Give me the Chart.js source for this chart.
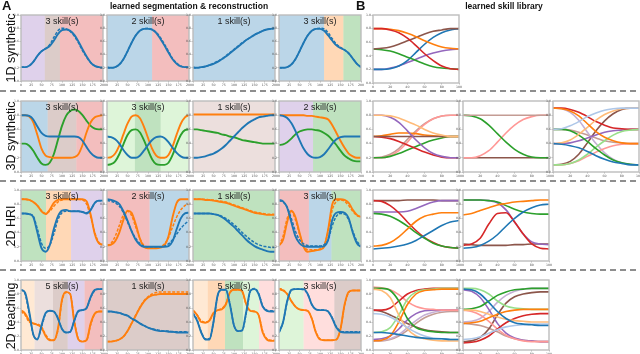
<!DOCTYPE html>
<html>
<head>
<meta charset="utf-8">
<title>learned segmentation &amp; skill library</title>
<script src="https://cdn.jsdelivr.net/npm/chart.js@4.4.0/dist/chart.umd.min.js"></script>
<style>
body { margin: 0; background: #fff; }
#fig { position: relative; width: 640px; height: 354px; overflow: hidden; background: #fff;
       font-family: "Liberation Sans", Arial, sans-serif; color: #111; }
.lbl { position: absolute; white-space: nowrap; line-height: 1; }
.panel { font-weight: bold; font-size: 13px; }
.head { font-weight: bold; font-size: 8.5px; transform: translateX(-50%); }
.row { font-size: 12.5px; transform: translate(-50%, -50%) rotate(-90deg); }
.skill { font-size: 9px; transform: translateX(-50%); color: #222; }
.sep { position: absolute; left: 0; width: 640px; height: 2px;
       background: repeating-linear-gradient(to right, #8e8e8e 0 6px, transparent 6px 10px); }
canvas { position: absolute; }
</style>
</head>
<body>
<div id="fig"></div>
<script>

// ---- x grids and tick labels
var X_SEG = [0,10,20,30,40,50,60,70,80,90,100,110,120,130,140,150,160,170,180,190,200];
var X_LIB = [0,10,20,30,40,50,60,70,80,90,100];
var SEG_TICKS = [0,25,50,75,100,125,150,175,200];
var LIB_TICKS = [0,20,40,60,80,100];
var Y_TICKS = [0,0.2,0.4,0.6,0.8,1.0];

var rowNames = ['1D synthetic', '3D synthetic', '2D HRI', '2D teaching'];
var skillCounts = [[3,2,1,3],[3,3,1,2],[3,2,1,3],[5,1,5,3]];

// ---- A: 1D synthetic (demo + dashed reconstruction)
var syn1_a     = [0.21,0.21,0.23,0.29,0.38,0.45,0.49,0.53,0.61,0.71,0.77,0.78,0.76,0.70,0.60,0.48,0.37,0.28,0.23,0.21,0.20];
var syn1_a_rec = [0.21,0.21,0.23,0.29,0.38,0.45,0.49,0.55,0.66,0.76,0.80,0.79,0.75,0.68,0.58,0.46,0.36,0.28,0.23,0.21,0.20];
var syn1_b     = [0.20,0.20,0.21,0.25,0.33,0.45,0.58,0.69,0.76,0.79,0.79,0.78,0.73,0.64,0.54,0.43,0.33,0.26,0.22,0.21,0.21];
var syn1_b_rec = [0.21,0.20,0.21,0.25,0.33,0.45,0.58,0.69,0.76,0.79,0.80,0.78,0.74,0.66,0.56,0.45,0.34,0.27,0.23,0.21,0.21];
var syn1_c     = [0.20,0.20,0.21,0.22,0.24,0.26,0.29,0.33,0.37,0.42,0.47,0.52,0.57,0.62,0.66,0.70,0.73,0.76,0.78,0.79,0.80];
var syn1_c_rec = [0.21,0.20,0.21,0.22,0.24,0.27,0.30,0.33,0.38,0.43,0.48,0.53,0.58,0.62,0.66,0.70,0.73,0.76,0.78,0.79,0.80];
var syn1_d     = [0.20,0.20,0.21,0.25,0.33,0.45,0.58,0.69,0.76,0.79,0.79,0.76,0.69,0.61,0.54,0.50,0.47,0.42,0.34,0.26,0.21];
var syn1_d_rec = [0.20,0.20,0.21,0.25,0.33,0.45,0.58,0.69,0.76,0.79,0.80,0.79,0.73,0.64,0.56,0.51,0.47,0.42,0.34,0.26,0.21];

// ---- A: 3D synthetic (reconstruction sits on top of the demo)
var syn3_a_blue   = [0.80,0.80,0.79,0.74,0.64,0.55,0.51,0.50,0.50,0.50,0.50,0.50,0.50,0.50,0.49,0.44,0.35,0.27,0.22,0.20,0.20];
var syn3_a_orange = [0.80,0.80,0.78,0.70,0.52,0.33,0.23,0.21,0.20,0.20,0.20,0.20,0.20,0.21,0.25,0.38,0.56,0.70,0.77,0.79,0.80];
var syn3_a_green  = [0.40,0.40,0.37,0.30,0.20,0.12,0.10,0.13,0.25,0.45,0.65,0.79,0.86,0.88,0.86,0.80,0.72,0.65,0.61,0.60,0.60];
var syn3_b_blue   = [0.50,0.49,0.46,0.40,0.31,0.24,0.20,0.20,0.23,0.30,0.38,0.45,0.49,0.50,0.48,0.42,0.34,0.27,0.22,0.20,0.20];
var syn3_b_orange = [0.20,0.21,0.26,0.37,0.53,0.68,0.78,0.80,0.76,0.64,0.48,0.33,0.23,0.20,0.20,0.24,0.36,0.53,0.68,0.77,0.80];
var syn3_b_green  = [0.10,0.11,0.15,0.25,0.39,0.52,0.59,0.60,0.56,0.45,0.31,0.18,0.11,0.10,0.10,0.13,0.24,0.39,0.52,0.59,0.60];
var syn3_c_blue   = [0.20,0.20,0.21,0.22,0.24,0.26,0.29,0.33,0.38,0.44,0.50,0.56,0.62,0.67,0.71,0.74,0.77,0.78,0.79,0.80,0.80];
var syn3_c_orange = [0.81,0.81,0.81,0.81,0.81,0.81,0.81,0.81,0.81,0.81,0.81,0.81,0.81,0.81,0.81,0.81,0.81,0.81,0.81,0.81,0.81];
var syn3_c_green  = [0.60,0.60,0.59,0.58,0.57,0.56,0.55,0.53,0.52,0.50,0.49,0.47,0.45,0.44,0.43,0.42,0.41,0.40,0.40,0.40,0.40];
var syn3_d_blue   = [0.80,0.79,0.76,0.69,0.58,0.45,0.33,0.25,0.21,0.20,0.21,0.25,0.32,0.40,0.46,0.49,0.50,0.50,0.50,0.50,0.50];
var syn3_d_orange = [0.80,0.80,0.80,0.80,0.80,0.80,0.80,0.79,0.79,0.78,0.77,0.76,0.74,0.66,0.55,0.44,0.34,0.26,0.22,0.20,0.20];
var syn3_d_green  = [0.38,0.39,0.42,0.47,0.53,0.57,0.59,0.60,0.60,0.59,0.58,0.55,0.51,0.45,0.38,0.30,0.23,0.19,0.16,0.15,0.15];

// ---- A: 2D HRI
var hri_a_orange     = [0.87,0.87,0.86,0.83,0.78,0.70,0.66,0.72,0.82,0.86,0.87,0.87,0.87,0.87,0.87,0.87,0.84,0.65,0.38,0.25,0.23];
var hri_a_orange_rec = [0.87,0.87,0.86,0.83,0.78,0.71,0.67,0.70,0.77,0.83,0.86,0.87,0.87,0.87,0.87,0.86,0.80,0.62,0.40,0.26,0.23];
var hri_a_blue       = [0.67,0.67,0.66,0.62,0.40,0.18,0.13,0.22,0.45,0.63,0.71,0.72,0.70,0.70,0.70,0.69,0.67,0.72,0.82,0.85,0.85];
var hri_a_blue_rec   = [0.67,0.67,0.66,0.63,0.45,0.25,0.18,0.22,0.38,0.58,0.68,0.70,0.70,0.70,0.70,0.69,0.68,0.72,0.82,0.85,0.85];
var hri_b_orange     = [0.22,0.23,0.28,0.40,0.58,0.71,0.68,0.52,0.32,0.20,0.18,0.18,0.18,0.19,0.22,0.35,0.62,0.82,0.87,0.87,0.87];
var hri_b_orange_rec = [0.22,0.25,0.35,0.50,0.65,0.70,0.64,0.48,0.32,0.22,0.19,0.18,0.19,0.20,0.24,0.33,0.48,0.62,0.72,0.78,0.80];
var hri_b_blue       = [0.87,0.86,0.84,0.80,0.70,0.57,0.42,0.30,0.23,0.20,0.20,0.20,0.20,0.20,0.20,0.21,0.28,0.45,0.60,0.67,0.68];
var hri_b_blue_rec   = [0.85,0.84,0.82,0.77,0.68,0.55,0.42,0.32,0.25,0.21,0.20,0.20,0.20,0.20,0.21,0.24,0.30,0.38,0.46,0.52,0.57];
var hri_c_orange     = [0.87,0.87,0.87,0.86,0.86,0.85,0.84,0.83,0.82,0.80,0.78,0.76,0.74,0.72,0.70,0.68,0.67,0.66,0.65,0.65,0.65];
var hri_c_orange_rec = [0.87,0.87,0.87,0.87,0.86,0.86,0.85,0.84,0.83,0.81,0.79,0.77,0.75,0.73,0.71,0.69,0.68,0.67,0.66,0.66,0.66];
var hri_c_blue       = [0.67,0.67,0.67,0.67,0.67,0.66,0.65,0.62,0.58,0.53,0.48,0.42,0.36,0.30,0.25,0.21,0.18,0.16,0.14,0.13,0.13];
var hri_c_blue_rec   = [0.67,0.67,0.67,0.67,0.67,0.66,0.65,0.63,0.60,0.56,0.51,0.46,0.40,0.35,0.30,0.26,0.23,0.21,0.20,0.19,0.19];
var hri_d_orange     = [0.22,0.30,0.55,0.71,0.62,0.40,0.20,0.13,0.14,0.15,0.16,0.20,0.45,0.80,0.87,0.87,0.86,0.82,0.72,0.65,0.62];
var hri_d_orange_rec = [0.22,0.35,0.60,0.70,0.58,0.38,0.22,0.16,0.16,0.16,0.17,0.22,0.42,0.72,0.84,0.86,0.84,0.78,0.70,0.64,0.62];
var hri_d_blue       = [0.86,0.84,0.75,0.55,0.35,0.25,0.21,0.20,0.20,0.20,0.20,0.21,0.30,0.58,0.68,0.69,0.68,0.60,0.40,0.25,0.20];
var hri_d_blue_rec   = [0.85,0.83,0.76,0.60,0.42,0.30,0.24,0.22,0.21,0.21,0.21,0.23,0.30,0.50,0.63,0.67,0.66,0.58,0.42,0.28,0.22];

// ---- A: 2D teaching
var tch_a_blue       = [0.86,0.82,0.55,0.22,0.15,0.35,0.53,0.56,0.55,0.45,0.30,0.25,0.26,0.42,0.56,0.57,0.60,0.76,0.86,0.87,0.87];
var tch_a_blue_rec   = [0.86,0.80,0.52,0.22,0.16,0.33,0.52,0.56,0.55,0.46,0.30,0.25,0.26,0.42,0.55,0.57,0.60,0.75,0.85,0.87,0.87];
var tch_a_orange     = [0.57,0.52,0.42,0.38,0.36,0.32,0.20,0.14,0.14,0.30,0.72,0.83,0.80,0.40,0.15,0.12,0.14,0.38,0.52,0.55,0.55];
var tch_a_orange_rec = [0.55,0.50,0.40,0.38,0.37,0.33,0.22,0.15,0.14,0.28,0.70,0.82,0.80,0.42,0.16,0.12,0.14,0.36,0.52,0.55,0.55];
var tch_b_blue       = [0.55,0.55,0.54,0.53,0.51,0.49,0.45,0.42,0.38,0.35,0.32,0.30,0.28,0.27,0.27,0.26,0.26,0.25,0.25,0.25,0.25];
var tch_b_blue_rec   = [0.55,0.55,0.54,0.53,0.51,0.49,0.45,0.42,0.38,0.35,0.32,0.30,0.29,0.28,0.27,0.27,0.26,0.26,0.26,0.26,0.26];
var tch_b_orange     = [0.12,0.12,0.13,0.15,0.19,0.27,0.38,0.49,0.60,0.69,0.75,0.78,0.79,0.80,0.80,0.80,0.80,0.80,0.80,0.80,0.80];
var tch_b_orange_rec = [0.12,0.12,0.13,0.15,0.19,0.27,0.38,0.50,0.61,0.70,0.76,0.80,0.82,0.83,0.83,0.83,0.83,0.83,0.83,0.83,0.83];
var tch_c_blue       = [0.52,0.42,0.25,0.15,0.15,0.40,0.78,0.86,0.86,0.65,0.35,0.27,0.28,0.55,0.85,0.87,0.80,0.62,0.56,0.55,0.55];
var tch_c_blue_rec   = [0.53,0.43,0.26,0.16,0.16,0.40,0.77,0.86,0.86,0.66,0.35,0.27,0.28,0.53,0.84,0.88,0.81,0.63,0.57,0.56,0.56];
var tch_c_orange     = [0.57,0.50,0.40,0.39,0.42,0.53,0.57,0.58,0.65,0.82,0.86,0.86,0.84,0.65,0.56,0.55,0.50,0.25,0.15,0.13,0.13];
var tch_c_orange_rec = [0.56,0.50,0.42,0.40,0.42,0.52,0.57,0.59,0.66,0.82,0.86,0.86,0.83,0.65,0.56,0.55,0.50,0.27,0.16,0.14,0.14];
var tch_d_blue       = [0.25,0.40,0.70,0.86,0.87,0.87,0.87,0.80,0.65,0.58,0.57,0.57,0.55,0.45,0.32,0.26,0.25,0.25,0.25,0.25,0.25];
var tch_d_blue_rec   = [0.25,0.40,0.69,0.85,0.87,0.87,0.86,0.80,0.65,0.58,0.57,0.57,0.55,0.46,0.33,0.27,0.26,0.26,0.26,0.26,0.26];
var tch_d_orange     = [0.87,0.85,0.80,0.70,0.62,0.58,0.57,0.56,0.45,0.25,0.15,0.14,0.14,0.14,0.15,0.30,0.65,0.83,0.85,0.85,0.85];
var tch_d_orange_rec = [0.88,0.86,0.80,0.70,0.62,0.58,0.57,0.56,0.45,0.26,0.16,0.14,0.14,0.14,0.15,0.30,0.64,0.82,0.85,0.85,0.85];

// ---- segment boundaries (x values) and the skill of each segment
var seg1 = [[0,58,95,200],[0,110,200],[0,200],[0,110,157,200]];
var seg1Skill = [['purple','brown','red'],['blue','red'],['blue'],['blue','orange','green']];
var seg3 = [[0,65,135,200],[0,68,131,200],[0,200],[0,83,200]];
var seg3Skill = [['blue','brown','red'],['lgreen','green','lgreen'],['lbrown'],['purple','green']];
var segH = [[0,61,122,200],[0,104,200],[0,200],[0,73,128,200]];
var segHSkill = [['green','orange','purple'],['red','blue'],['green'],['red','blue','green']];
var segT = [[0,33,78,114,155,200],[0,200],[0,36,78,122,161,200],[0,60,135,200]];
var segTSkill = [['lorange','lbrown','brown','purple','red'],['brown'],['lorange','orange','green','lgreen','lred'],['lgreen','lred','brown']];

// ---- B: learned skill library
var lib1_red    = [0.80,0.80,0.78,0.74,0.66,0.55,0.43,0.33,0.25,0.21,0.20];
var lib1_orange = [0.80,0.80,0.79,0.77,0.73,0.68,0.62,0.57,0.53,0.51,0.50];
var lib1_brown  = [0.50,0.51,0.53,0.57,0.62,0.67,0.72,0.76,0.78,0.80,0.80];
var lib1_green  = [0.50,0.49,0.47,0.43,0.38,0.33,0.28,0.24,0.22,0.21,0.20];
var lib1_blue   = [0.20,0.20,0.21,0.25,0.33,0.45,0.57,0.67,0.74,0.78,0.80];
var lib1_purple = [0.20,0.20,0.22,0.25,0.30,0.35,0.40,0.44,0.47,0.49,0.50];

var lib3a_purple  = [0.80,0.80,0.77,0.70,0.58,0.45,0.34,0.26,0.22,0.20,0.20];
var lib3a_lorange = [0.80,0.80,0.79,0.76,0.71,0.66,0.60,0.55,0.52,0.50,0.50];
var lib3a_brown   = [0.50,0.50,0.50,0.50,0.50,0.50,0.50,0.50,0.50,0.50,0.50];
var lib3a_red     = [0.50,0.49,0.47,0.43,0.38,0.33,0.28,0.24,0.21,0.20,0.20];
var lib3a_orange  = [0.50,0.51,0.53,0.55,0.55,0.54,0.52,0.51,0.50,0.50,0.50];
var lib3a_green   = [0.20,0.20,0.22,0.26,0.31,0.36,0.41,0.45,0.48,0.50,0.50];
var lib3a_lred    = [0.20,0.20,0.23,0.30,0.42,0.56,0.67,0.75,0.79,0.80,0.80];
var lib3a_lbrown  = [0.20,0.21,0.25,0.33,0.46,0.58,0.68,0.75,0.79,0.80,0.80];

var lib3b_lbrown = [0.80,0.80,0.80,0.80,0.80,0.80,0.80,0.80,0.80,0.80,0.80];
var lib3b_green  = [0.80,0.79,0.75,0.66,0.54,0.42,0.32,0.25,0.21,0.20,0.20];
var lib3b_lred   = [0.20,0.20,0.23,0.30,0.42,0.55,0.66,0.74,0.78,0.80,0.80];
var lib3b_brown  = [0.20,0.20,0.20,0.20,0.20,0.20,0.20,0.20,0.20,0.20,0.20];

var lib3c_red     = [0.90,0.90,0.88,0.84,0.78,0.71,0.66,0.62,0.61,0.60,0.60];
var lib3c_orange  = [0.90,0.89,0.86,0.79,0.68,0.57,0.49,0.44,0.41,0.40,0.40];
var lib3c_lpurple = [0.90,0.89,0.84,0.73,0.56,0.40,0.27,0.18,0.13,0.11,0.10];
var lib3c_lblue   = [0.60,0.61,0.65,0.71,0.78,0.83,0.87,0.89,0.90,0.90,0.90];
var lib3c_green   = [0.60,0.60,0.58,0.52,0.43,0.33,0.24,0.17,0.13,0.11,0.10];
var lib3c_lbrown  = [0.60,0.60,0.59,0.56,0.52,0.48,0.44,0.42,0.41,0.40,0.40];
var lib3c_purple  = [0.40,0.40,0.41,0.44,0.48,0.52,0.56,0.58,0.59,0.60,0.60];
var lib3c_blue    = [0.40,0.39,0.37,0.34,0.29,0.23,0.18,0.14,0.12,0.10,0.10];
var lib3c_lgreen  = [0.10,0.10,0.12,0.17,0.25,0.35,0.44,0.52,0.57,0.59,0.60];
var lib3c_lorange = [0.40,0.41,0.45,0.53,0.63,0.73,0.81,0.86,0.89,0.90,0.90];
var lib3c_brown   = [0.10,0.11,0.15,0.25,0.41,0.58,0.72,0.82,0.88,0.90,0.90];
var lib3c_lred    = [0.10,0.10,0.12,0.16,0.22,0.28,0.33,0.37,0.39,0.40,0.40];

var libHa_brown  = [0.85,0.85,0.85,0.85,0.86,0.86,0.86,0.86,0.85,0.85,0.85];
var libHa_red    = [0.85,0.84,0.78,0.68,0.55,0.43,0.33,0.26,0.21,0.19,0.18];
var libHa_purple = [0.69,0.69,0.69,0.69,0.70,0.74,0.79,0.83,0.85,0.85,0.85];
var libHa_green  = [0.67,0.66,0.63,0.57,0.49,0.40,0.32,0.25,0.21,0.19,0.18];
var libHa_orange = [0.21,0.22,0.26,0.34,0.45,0.56,0.63,0.66,0.68,0.68,0.68];
var libHa_blue   = [0.17,0.18,0.19,0.21,0.24,0.29,0.36,0.43,0.50,0.55,0.57];

var libHb_purple = [0.86,0.86,0.86,0.85,0.82,0.72,0.55,0.38,0.27,0.24,0.23];
var libHb_green  = [0.86,0.86,0.86,0.85,0.83,0.78,0.73,0.69,0.67,0.66,0.66];
var libHb_orange = [0.65,0.67,0.71,0.75,0.79,0.81,0.83,0.84,0.85,0.86,0.86];
var libHb_red    = [0.22,0.24,0.32,0.52,0.67,0.68,0.55,0.38,0.24,0.18,0.17];
var libHb_blue   = [0.18,0.19,0.22,0.28,0.37,0.49,0.60,0.69,0.75,0.79,0.80];
var libHb_brown  = [0.24,0.23,0.22,0.22,0.22,0.22,0.23,0.23,0.24,0.24,0.24];

var libTa_lred    = [0.90,0.89,0.86,0.79,0.69,0.62,0.59,0.58,0.57,0.57,0.57];
var libTa_lorange = [0.87,0.85,0.75,0.50,0.30,0.20,0.16,0.14,0.13,0.13,0.13];
var libTa_green   = [0.88,0.88,0.85,0.70,0.45,0.32,0.28,0.26,0.25,0.25,0.25];
var libTa_lgreen  = [0.25,0.26,0.32,0.50,0.72,0.83,0.86,0.87,0.88,0.88,0.88];
var libTa_red     = [0.57,0.57,0.60,0.70,0.80,0.85,0.87,0.88,0.88,0.88,0.88];
var libTa_brown   = [0.57,0.55,0.50,0.44,0.38,0.33,0.29,0.27,0.26,0.25,0.25];
var libTa_lblue   = [0.52,0.51,0.47,0.40,0.32,0.25,0.20,0.17,0.16,0.15,0.15];
var libTa_blue    = [0.25,0.25,0.24,0.22,0.20,0.18,0.17,0.16,0.16,0.15,0.15];
var libTa_purple  = [0.15,0.16,0.20,0.30,0.43,0.52,0.56,0.57,0.57,0.57,0.57];
var libTa_orange  = [0.13,0.14,0.20,0.40,0.65,0.80,0.85,0.86,0.87,0.87,0.87];
var libTa_lpurple = [0.13,0.14,0.16,0.22,0.32,0.42,0.50,0.54,0.56,0.57,0.57];
var libTa_lbrown  = [0.13,0.13,0.15,0.20,0.28,0.38,0.46,0.51,0.54,0.55,0.55];

var libTb_lgreen  = [0.88,0.88,0.86,0.80,0.70,0.63,0.60,0.59,0.58,0.58,0.58];
var libTb_blue    = [0.87,0.86,0.80,0.68,0.55,0.45,0.39,0.37,0.36,0.35,0.35];
var libTb_purple  = [0.86,0.84,0.75,0.58,0.38,0.24,0.17,0.14,0.13,0.12,0.12];
var libTb_green   = [0.58,0.59,0.62,0.70,0.78,0.83,0.86,0.87,0.88,0.88,0.88];
var libTb_lorange = [0.57,0.57,0.55,0.51,0.47,0.44,0.42,0.41,0.40,0.40,0.40];
var libTb_lred    = [0.57,0.55,0.50,0.41,0.30,0.21,0.16,0.13,0.12,0.12,0.12];
var libTb_orange  = [0.38,0.39,0.41,0.46,0.51,0.55,0.57,0.58,0.58,0.58,0.58];
var libTb_lpurple = [0.40,0.41,0.45,0.55,0.68,0.78,0.84,0.87,0.88,0.88,0.88];
var libTb_lbrown  = [0.38,0.37,0.35,0.31,0.26,0.20,0.16,0.14,0.13,0.12,0.12];
var libTb_brown   = [0.12,0.13,0.18,0.30,0.50,0.67,0.76,0.80,0.82,0.83,0.83];
var libTb_red     = [0.10,0.11,0.14,0.20,0.30,0.39,0.45,0.49,0.51,0.52,0.52];
var libTb_lblue   = [0.15,0.16,0.19,0.24,0.29,0.33,0.35,0.36,0.37,0.37,0.37];

// ---- styles
var COLORS = { blue:'#1f77b4', orange:'#ff7f0e', green:'#2ca02c', red:'#d62728', purple:'#9467bd', brown:'#8c564b',
  lblue:'#aec7e8', lorange:'#ffbb78', lgreen:'#98df8a', lred:'#ff9896', lpurple:'#c5b0d5', lbrown:'#c49c94' };
function shade(k, a) {
  var h = COLORS[k];
  return 'rgba(' + parseInt(h.substr(1,2),16) + ',' + parseInt(h.substr(3,2),16) + ',' + parseInt(h.substr(5,2),16) + ',' + a + ')';
}

// ---- layout
var A_LEFT = [21, 107, 193, 279], A_W = 82;
var B_LEFT = [373, 463, 553], B_W = 86;
var ROW_TOP = [15, 101, 190, 280], ROW_H = [66, 71, 71, 70];
var SEP_Y = [90, 180, 269];
var ROW_MID = [48, 136, 226, 316];

Chart.defaults.font.family = 'DejaVu Sans';
Chart.defaults.animation = false;

var segPlugin = {
  id: 'segShade',
  beforeDatasetsDraw: function(chart, args, o) {
    var a = chart.chartArea, x = chart.scales.x, ctx = chart.ctx;
    ctx.save();
    for (var i = 0; i < o.keys.length; i++) {
      var x0 = x.getPixelForValue(o.bounds[i]), x1 = x.getPixelForValue(o.bounds[i+1]);
      ctx.fillStyle = shade(o.keys[i], o.keys[i].charAt(0) == 'l' ? 0.32 : 0.3);
      ctx.fillRect(x0, a.top, x1 - x0, a.bottom - a.top);
    }
    ctx.restore();
  },
  afterDraw: function(chart) {
    var a = chart.chartArea, ctx = chart.ctx;
    ctx.save();
    ctx.strokeStyle = '#bdbdbd';
    ctx.lineWidth = 1.4;
    ctx.strokeRect(a.left, a.top, a.right - a.left, a.bottom - a.top);
    ctx.restore();
  }
};

var fig = document.getElementById('fig');

function addText(cls, txt, x, y) {
  var d = document.createElement('div');
  d.className = 'lbl ' + cls;
  d.textContent = txt;
  d.style.left = x + 'px';
  d.style.top = y + 'px';
  fig.appendChild(d);
  return d;
}

function drawPlot(x, y, w, h, xs, xTicks, xMax, lines, bounds, keys, lw) {
  var PADL = 10, PADT = 2, PADR = 3, PADB = 7;
  var cv = document.createElement('canvas');
  cv.width = w + PADL + PADR;
  cv.height = h + PADT + PADB;
  cv.style.left = (x - PADL) + 'px';
  cv.style.top = (y - PADT) + 'px';
  fig.appendChild(cv);

  var datasets = lines.map(function(l) {
    return {
      data: xs.map(function(v, i) { return { x: v, y: l[0][i] }; }),
      borderColor: COLORS[l[1]],
      borderWidth: l[2] ? 1.5 : lw,
      borderDash: l[2] ? [3, 1.5] : [],
      pointRadius: 0,
      cubicInterpolationMode: 'monotone',
      fill: false
    };
  });

  var tickFont = { size: 3.2, family: 'DejaVu Sans' };
  new Chart(cv, {
    type: 'line',
    data: { datasets: datasets },
    options: {
      responsive: false,
      devicePixelRatio: 1,
      layout: { padding: { left: 0, right: PADR, top: PADT, bottom: 0 } },
      plugins: { legend: { display: false }, tooltip: { enabled: false },
                 segShade: { bounds: bounds, keys: keys } },
      scales: {
        x: { type: 'linear', min: 0, max: xMax,
             afterBuildTicks: function(s) { s.ticks = xTicks.map(function(v) { return { value: v }; }); },
             ticks: { font: tickFont, color: '#555', maxRotation: 0, autoSkip: false, padding: 0.5,
                      callback: function(v) { return String(v); } },
             grid: { drawOnChartArea: false, tickLength: 1.5, color: '#777', lineWidth: 0.5 },
             border: { display: false },
             afterFit: function(s) { s.height = PADB; s.paddingLeft = 0; s.paddingRight = 0; } },
        y: { min: 0, max: 1,
             afterBuildTicks: function(s) { s.ticks = Y_TICKS.map(function(v) { return { value: v }; }); },
             ticks: { font: tickFont, color: '#555', padding: 0.5,
                      callback: function(v) { return v.toFixed(1); } },
             grid: { drawOnChartArea: false, tickLength: 1.5, color: '#777', lineWidth: 0.5 },
             border: { display: false },
             afterFit: function(s) { s.width = PADL; s.paddingTop = 0; s.paddingBottom = 0; } }
      }
    },
    plugins: [segPlugin]
  });
}

// ---- panel A: segmentation & reconstruction
var segRows = [
  { bounds: seg1, keys: seg1Skill, plots: [
      [[syn1_a,'blue'],[syn1_a_rec,'blue',1]],
      [[syn1_b,'blue'],[syn1_b_rec,'blue',1]],
      [[syn1_c,'blue'],[syn1_c_rec,'blue',1]],
      [[syn1_d,'blue'],[syn1_d_rec,'blue',1]] ] },
  { bounds: seg3, keys: seg3Skill, plots: [
      [[syn3_a_blue,'blue'],[syn3_a_orange,'orange'],[syn3_a_green,'green']],
      [[syn3_b_blue,'blue'],[syn3_b_orange,'orange'],[syn3_b_green,'green']],
      [[syn3_c_blue,'blue'],[syn3_c_orange,'orange'],[syn3_c_green,'green']],
      [[syn3_d_blue,'blue'],[syn3_d_orange,'orange'],[syn3_d_green,'green']] ] },
  { bounds: segH, keys: segHSkill, plots: [
      [[hri_a_blue,'blue'],[hri_a_blue_rec,'blue',1],[hri_a_orange,'orange'],[hri_a_orange_rec,'orange',1]],
      [[hri_b_blue,'blue'],[hri_b_blue_rec,'blue',1],[hri_b_orange,'orange'],[hri_b_orange_rec,'orange',1]],
      [[hri_c_blue,'blue'],[hri_c_blue_rec,'blue',1],[hri_c_orange,'orange'],[hri_c_orange_rec,'orange',1]],
      [[hri_d_blue,'blue'],[hri_d_blue_rec,'blue',1],[hri_d_orange,'orange'],[hri_d_orange_rec,'orange',1]] ] },
  { bounds: segT, keys: segTSkill, plots: [
      [[tch_a_blue,'blue'],[tch_a_blue_rec,'blue',1],[tch_a_orange,'orange'],[tch_a_orange_rec,'orange',1]],
      [[tch_b_blue,'blue'],[tch_b_blue_rec,'blue',1],[tch_b_orange,'orange'],[tch_b_orange_rec,'orange',1]],
      [[tch_c_blue,'blue'],[tch_c_blue_rec,'blue',1],[tch_c_orange,'orange'],[tch_c_orange_rec,'orange',1]],
      [[tch_d_blue,'blue'],[tch_d_blue_rec,'blue',1],[tch_d_orange,'orange'],[tch_d_orange_rec,'orange',1]] ] }
];

segRows.forEach(function(row, r) {
  row.plots.forEach(function(lines, c) {
    drawPlot(A_LEFT[c], ROW_TOP[r], A_W, ROW_H[r], X_SEG, SEG_TICKS, 200, lines, row.bounds[c], row.keys[c], 1.9);
    addText('skill', skillCounts[r][c] + ' skill(s)', A_LEFT[c] + A_W / 2, ROW_TOP[r] + 2);
  });
});

// ---- panel B: skill library
var libRows = [
  [ [[lib1_red,'red'],[lib1_orange,'orange'],[lib1_brown,'brown'],[lib1_green,'green'],[lib1_blue,'blue'],[lib1_purple,'purple']] ],
  [ [[lib3a_lorange,'lorange'],[lib3a_purple,'purple'],[lib3a_brown,'brown'],[lib3a_red,'red'],[lib3a_orange,'orange'],
     [lib3a_green,'green'],[lib3a_lred,'lred'],[lib3a_lbrown,'lbrown']],
    [[lib3b_lbrown,'lbrown'],[lib3b_green,'green'],[lib3b_lred,'lred'],[lib3b_brown,'brown']],
    [[lib3c_blue,'blue'],[lib3c_lblue,'lblue'],[lib3c_orange,'orange'],[lib3c_lorange,'lorange'],[lib3c_green,'green'],
     [lib3c_lgreen,'lgreen'],[lib3c_red,'red'],[lib3c_lred,'lred'],[lib3c_purple,'purple'],[lib3c_lpurple,'lpurple'],
     [lib3c_brown,'brown'],[lib3c_lbrown,'lbrown']] ],
  [ [[libHa_blue,'blue'],[libHa_orange,'orange'],[libHa_green,'green'],[libHa_red,'red'],[libHa_purple,'purple'],[libHa_brown,'brown']],
    [[libHb_blue,'blue'],[libHb_orange,'orange'],[libHb_green,'green'],[libHb_red,'red'],[libHb_purple,'purple'],[libHb_brown,'brown']] ],
  [ [[libTa_blue,'blue'],[libTa_lblue,'lblue'],[libTa_orange,'orange'],[libTa_lorange,'lorange'],[libTa_green,'green'],
     [libTa_lgreen,'lgreen'],[libTa_red,'red'],[libTa_lred,'lred'],[libTa_purple,'purple'],[libTa_lpurple,'lpurple'],
     [libTa_brown,'brown'],[libTa_lbrown,'lbrown']],
    [[libTb_blue,'blue'],[libTb_lblue,'lblue'],[libTb_orange,'orange'],[libTb_lorange,'lorange'],[libTb_green,'green'],
     [libTb_lgreen,'lgreen'],[libTb_red,'red'],[libTb_lred,'lred'],[libTb_purple,'purple'],[libTb_lpurple,'lpurple'],
     [libTb_brown,'brown'],[libTb_lbrown,'lbrown']] ]
];

libRows.forEach(function(row, r) {
  row.forEach(function(lines, c) {
    var h = r == 0 ? 68 : ROW_H[r];
    drawPlot(B_LEFT[c], ROW_TOP[r], B_W, h, X_LIB, LIB_TICKS, 100, lines, [], [], 1.6);
  });
});

// ---- headings, row names, separators
addText('panel', 'A', 2, -1);
addText('head', 'learned segmentation & reconstruction', 189, 1.5);
addText('panel', 'B', 356, -1);
addText('head', 'learned skill library', 504, 1.5);
rowNames.forEach(function(n, r) { addText('row', n, 11, ROW_MID[r]); });
SEP_Y.forEach(function(y) {
  var s = document.createElement('div');
  s.className = 'sep';
  s.style.top = y + 'px';
  fig.appendChild(s);
});

</script>
</body>
</html>
